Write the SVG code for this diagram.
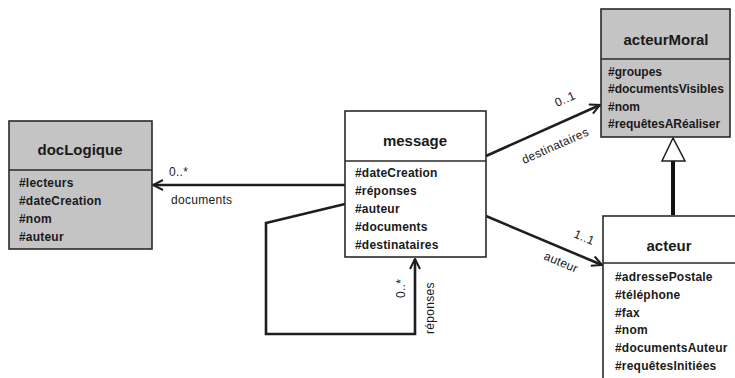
<svg xmlns="http://www.w3.org/2000/svg" width="735" height="378" viewBox="0 0 735 378">
<style>
.box{stroke:#2a2a2a;stroke-width:1.6}
.gray{fill:#c4c4c4}
.white{fill:#ffffff}
.div{stroke:#2a2a2a;stroke-width:1.6}
.title{font-family:"Liberation Sans",Arial,sans-serif;font-weight:bold;font-size:15px;fill:#1a1a1a;text-anchor:middle}
.attr{font-family:"Liberation Sans",Arial,sans-serif;font-weight:bold;font-size:12px;letter-spacing:0.2px;fill:#1a1a1a}
.tight{letter-spacing:0px}
.lbl{font-family:"Liberation Sans",Arial,sans-serif;font-size:12px;letter-spacing:0.3px;fill:#1a1a1a}
.conn{fill:none;stroke:#1e1e1e;stroke-width:2.6}
</style>
<defs>
<marker id="open" viewBox="0 0 12 12" refX="11" refY="6" markerWidth="12" markerHeight="12" markerUnits="userSpaceOnUse" orient="auto">
<path d="M1,1 L11,6 L1,11" fill="none" stroke="#1e1e1e" stroke-width="2"/>
</marker>
</defs>
<rect width="735" height="378" fill="#ffffff"/>
<g id="connectors">
<line class="conn" x1="345" y1="185" x2="153" y2="185" marker-end="url(#open)"/>
<line class="conn" x1="486" y1="156" x2="600" y2="105" marker-end="url(#open)"/>
<line class="conn" x1="486" y1="216" x2="602" y2="265" marker-end="url(#open)"/>
<polyline class="conn" points="345,204 266,223 266,334 415,334 415,259" marker-end="url(#open)"/>
<line x1="673" y1="161" x2="673" y2="215" stroke="#111" stroke-width="4"/>
<polygon points="673,138 662,161 685,161" fill="#ffffff" stroke="#1e1e1e" stroke-width="1.5"/>
<text class="lbl" x="169" y="176">0..*</text>
<text class="lbl" x="171" y="204">documents</text>
<text class="lbl" transform="translate(557,107) rotate(-24)">0..1</text>
<text class="lbl" transform="translate(524,164) rotate(-24)">destinataires</text>
<text class="lbl" transform="translate(573,237) rotate(23)">1..1</text>
<text class="lbl" transform="translate(543,259) rotate(23)">auteur</text>
<text class="lbl" transform="translate(405,298) rotate(-90)">0..*</text>
<text class="lbl" transform="translate(434,334) rotate(-90)">réponses</text>
</g>
<g id="docLogique">
<rect class="box gray" x="9" y="121" width="143" height="128"/>
<line class="div" x1="9" y1="170" x2="152" y2="170"/>
<text class="title" x="80" y="155">docLogique</text>
<text class="attr" x="19" y="187">#lecteurs</text>
<text class="attr" x="19" y="205">#dateCreation</text>
<text class="attr" x="19" y="223">#nom</text>
<text class="attr" x="19" y="241">#auteur</text>
</g>
<g id="message">
<rect class="box white" x="345" y="111" width="141" height="146"/>
<line class="div" x1="345" y1="161" x2="486" y2="161"/>
<text class="title" x="415" y="146">message</text>
<text class="attr" x="355" y="177">#dateCreation</text>
<text class="attr" x="355" y="195">#réponses</text>
<text class="attr" x="355" y="213">#auteur</text>
<text class="attr" x="355" y="231">#documents</text>
<text class="attr" x="355" y="249">#destinataires</text>
</g>
<g id="acteurMoral">
<rect class="box gray" x="601" y="9" width="129" height="128"/>
<line class="div" x1="601" y1="59" x2="730" y2="59"/>
<text class="title" x="666" y="45">acteurMoral</text>
<text class="attr tight" x="608" y="76">#groupes</text>
<text class="attr tight" x="608" y="93">#documentsVisibles</text>
<text class="attr tight" x="608" y="111">#nom</text>
<text class="attr tight" x="608" y="128">#requêtesARéaliser</text>
</g>
<g id="acteur">
<rect class="box white" x="603" y="216" width="140" height="170"/>
<line class="div" x1="603" y1="263" x2="735" y2="263"/>
<text class="title" x="669" y="251">acteur</text>
<text class="attr" x="615" y="281">#adressePostale</text>
<text class="attr" x="615" y="299">#téléphone</text>
<text class="attr" x="615" y="317">#fax</text>
<text class="attr" x="615" y="334">#nom</text>
<text class="attr" x="615" y="352">#documentsAuteur</text>
<text class="attr" x="615" y="370">#requêtesInitiées</text>
</g>
</svg>
